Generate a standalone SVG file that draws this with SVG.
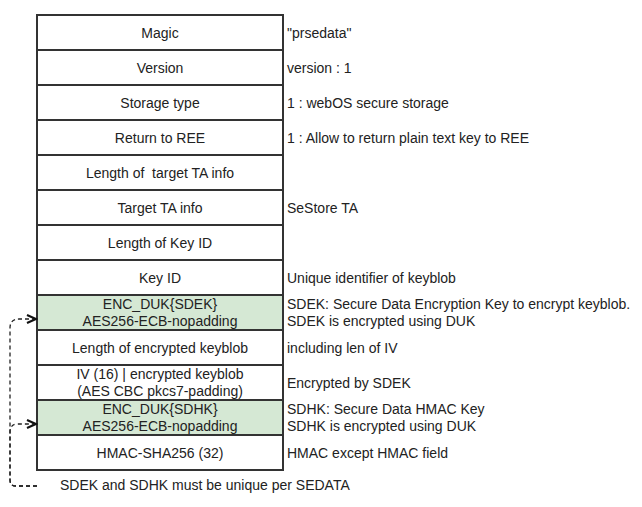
<svg xmlns="http://www.w3.org/2000/svg" width="642" height="507" viewBox="0 0 642 507">
  <style>
    .cell { fill: #ffffff; stroke: #333333; stroke-width: 2; }
    .key { fill: #d5e8d4; }
    text { font-family: "Liberation Sans", Arial, Helvetica, sans-serif; font-size: 14px; fill: #222222; }
    .c { text-anchor: middle; }
    .d { text-anchor: start; }
    .edge { fill: none; stroke: #222222; stroke-width: 1.3; stroke-dasharray: 4 3; }
  </style>
  <defs>
    <marker id="open" viewBox="0 0 12 12" refX="10.5" refY="6" markerWidth="12" markerHeight="12" markerUnits="userSpaceOnUse" orient="auto">
      <path d="M1.5 2 L10.5 6 L1.5 10" fill="none" stroke="#111111" stroke-width="2.2" stroke-linejoin="miter"/>
    </marker>
  </defs>

  <!-- SEDATA layout: one row per field -->
  <g id="magic"><rect class="cell" x="37" y="15" width="246" height="35"/><text class="c" x="160" y="37.5">Magic</text></g>
  <g id="version"><rect class="cell" x="37" y="50" width="246" height="35"/><text class="c" x="160" y="72.5">Version</text></g>
  <g id="storage-type"><rect class="cell" x="37" y="85" width="246" height="35"/><text class="c" x="160" y="107.5">Storage type</text></g>
  <g id="return-to-ree"><rect class="cell" x="37" y="120" width="246" height="35"/><text class="c" x="160" y="142.5">Return to REE</text></g>
  <g id="len-target-ta"><rect class="cell" x="37" y="155" width="246" height="35"/><text class="c" x="160" y="177.5" xml:space="preserve">Length of  target TA info</text></g>
  <g id="target-ta"><rect class="cell" x="37" y="190" width="246" height="35"/><text class="c" x="160" y="212.5">Target TA info</text></g>
  <g id="len-key-id"><rect class="cell" x="37" y="225" width="246" height="35"/><text class="c" x="160" y="247.5">Length of Key ID</text></g>
  <g id="key-id"><rect class="cell" x="37" y="260" width="246" height="35"/><text class="c" x="160" y="282.5">Key ID</text></g>
  <g id="enc-sdek"><rect class="cell key" x="37" y="295" width="246" height="35"/><text class="c" x="160" y="308.5">ENC_DUK{SDEK}</text><text class="c" x="160" y="325.5">AES256-ECB-nopadding</text></g>
  <g id="len-keyblob"><rect class="cell" x="37" y="330" width="246" height="35"/><text class="c" x="160" y="352.5">Length of encrypted keyblob</text></g>
  <g id="keyblob"><rect class="cell" x="37" y="365" width="246" height="35"/><text class="c" x="160" y="378.5">IV (16) | encrypted keyblob</text><text class="c" x="160" y="395.5">(AES CBC pkcs7-padding)</text></g>
  <g id="enc-sdhk"><rect class="cell key" x="37" y="400" width="246" height="35"/><text class="c" x="160" y="413.5">ENC_DUK{SDHK}</text><text class="c" x="160" y="430.5">AES256-ECB-nopadding</text></g>
  <g id="hmac"><rect class="cell" x="37" y="435" width="246" height="35"/><text class="c" x="160" y="457.5">HMAC-SHA256 (32)</text></g>

  <!-- field descriptions -->
  <g id="desc-magic"><text class="d" x="287" y="37.5">"prsedata"</text></g>
  <g id="desc-version"><text class="d" x="287" y="72.5">version : 1</text></g>
  <g id="desc-storage"><text class="d" x="287" y="107.5">1 : webOS secure storage</text></g>
  <g id="desc-return"><text class="d" x="287" y="142.5">1 : Allow to return plain text key to REE</text></g>
  <g id="desc-target-ta"><text class="d" x="287" y="212.5">SeStore TA</text></g>
  <g id="desc-key-id"><text class="d" x="287" y="282.5">Unique identifier of keyblob</text></g>
  <g id="desc-sdek"><text class="d" x="287" y="309">SDEK: Secure Data Encryption Key to encrypt keyblob.</text><text class="d" x="287" y="326">SDEK is encrypted using DUK</text></g>
  <g id="desc-len-keyblob"><text class="d" x="287" y="352.5">including len of IV</text></g>
  <g id="desc-keyblob"><text class="d" x="287" y="387.5">Encrypted by SDEK</text></g>
  <g id="desc-sdhk"><text class="d" x="287" y="414">SDHK: Secure Data HMAC Key</text><text class="d" x="287" y="431">SDHK is encrypted using DUK</text></g>
  <g id="desc-hmac"><text class="d" x="287" y="457.5">HMAC except HMAC field</text></g>

  <!-- note on key uniqueness -->
  <g id="note"><text class="d" x="60" y="489.5">SDEK and SDHK must be unique per SEDATA</text></g>

  <!-- connectors from the note to both encrypted keys -->
  <g id="connectors">
    <path class="edge" d="M37 486 H16 Q10 486 10 480 V328 Q10 319 19 319 H36" marker-end="url(#open)"/>
    <path class="edge" d="M37 486 H16 Q10 486 10 480 V432 Q10 424 18 424 H36" marker-end="url(#open)"/>
  </g>
</svg>
